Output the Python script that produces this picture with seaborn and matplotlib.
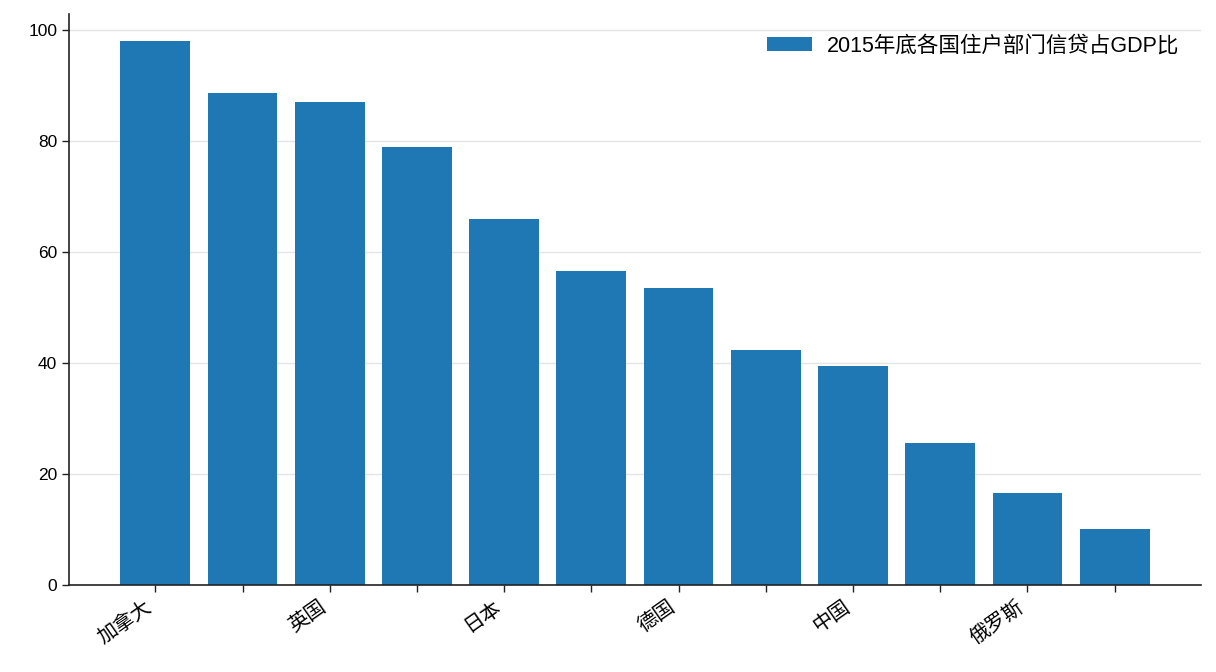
import matplotlib
matplotlib.use("Agg")
import matplotlib.pyplot as plt
import pandas as pd
import seaborn as sns

# household credit / GDP at end of 2015
countries = ["加拿大", "韩国", "英国", "美国", "日本", "法国",
             "德国", "意大利", "中国", "巴西", "俄罗斯", "印度"]
credit_ratio = [98.0, 88.6, 87.1, 79.0, 66.0, 56.6,
                53.6, 42.3, 39.5, 25.6, 16.6, 10.1]
shown_labels = ["加拿大", "", "英国", "", "日本", "",
                "德国", "", "中国", "", "俄罗斯", ""]
legend_label = "2015年底各国住户部门信贷占GDP比"

sns.set_theme(style="white")
plt.rcParams["font.family"] = ["Liberation Sans", "Noto Sans CJK SC", "DejaVu Sans"]
plt.rcParams["axes.unicode_minus"] = False
plt.rcParams["text.color"] = "black"
plt.rcParams["xtick.color"] = "black"
plt.rcParams["ytick.color"] = "black"

df = pd.DataFrame({"country": countries, "ratio": credit_ratio})

fig = plt.figure(figsize=(12.16, 6.72), dpi=100)
ax = fig.add_axes([0.0567, 0.1295, 0.931, 0.8495])

sns.barplot(data=df, x="country", y="ratio", color="#1f77b4", saturation=1,
            width=0.8, linewidth=0, label=legend_label, ax=ax, zorder=2)

ax.set_xlim(-0.99, 11.99)
ax.set_ylim(0, 102.9)
ax.set_yticks([0, 20, 40, 60, 80, 100])
ax.set_xticks(range(len(countries)))
ax.set_xticklabels(shown_labels, rotation=35, ha="right", fontsize=14.5)
ax.tick_params(axis="y", labelsize=12.5, length=5, width=1, color="#222222", left=True)
ax.tick_params(axis="x", length=5, width=1, color="#222222", bottom=True, pad=4)
ax.set_xlabel("")
ax.set_ylabel("")

ax.yaxis.grid(True, color="#e5e5e5", linewidth=1, zorder=0)
ax.set_axisbelow(True)
sns.despine(ax=ax)
for side in ["left", "bottom"]:
    ax.spines[side].set_color("#222222")
    ax.spines[side].set_linewidth(1.2)

ax.legend(loc="upper right", bbox_to_anchor=(0.998, 0.996), frameon=False,
          fontsize=15.5, handlelength=2.1, handleheight=0.62, handletextpad=0.7)

fig.savefig("out.png", dpi=100)
